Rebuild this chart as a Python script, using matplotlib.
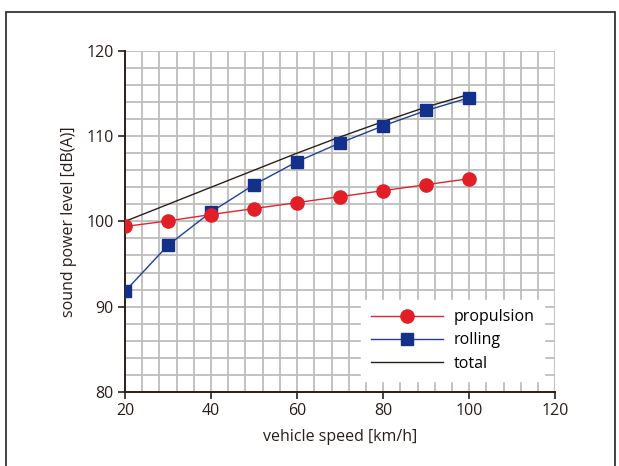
import matplotlib.pyplot as plt
import matplotlib.patches as patches
import numpy as np

plt.rcParams['font.family'] = ['Open Sans', 'DejaVu Sans']

speed = [20, 30, 40, 50, 60, 70, 80, 90, 100]
propulsion = [99.4, 100.05, 100.8, 101.5, 102.2, 102.9, 103.6, 104.3, 105.0]
rolling = [91.8, 97.2, 101.1, 104.3, 107.0, 109.2, 111.2, 113.0, 114.5]
total = [100.0, 102.0, 104.0, 106.0, 108.0, 109.9, 111.7, 113.4, 114.9]

fig = plt.figure(figsize=(6.19, 4.66), dpi=100)
ax = fig.add_axes([0.202, 0.159, 0.695, 0.732])

# outer frame
fig.patches.append(patches.Rectangle((0.009, -0.01), 0.985, 0.985, transform=fig.transFigure,
                                     fill=False, edgecolor='#222222', linewidth=1.2))

ax.plot(speed, total, color='#2a1f18', linewidth=1.0, label='total', zorder=3)
ax.plot(speed, rolling, color='#1f3f99', linewidth=1.0, marker='s', markersize=8,
        markerfacecolor='#13308a', markeredgecolor='#13308a', label='rolling', zorder=4)
ax.plot(speed, propulsion, color='#e2242a', linewidth=1.0, marker='o', markersize=9.5,
        markerfacecolor='#e02026', markeredgecolor='#e02026', label='propulsion', zorder=5)

ax.set_xlim(20, 120)
ax.set_ylim(80, 120)
ax.set_xticks(np.arange(20, 121, 20))
ax.set_yticks(np.arange(80, 121, 10))
ax.set_xticks(np.arange(20, 121, 4), minor=True)
ax.set_yticks(np.arange(80, 121, 2), minor=True)
ax.grid(which='both', color='#bdbdbd', linewidth=1.3)
ax.set_axisbelow(True)
ax.tick_params(which='minor', length=0)
ax.tick_params(which='major', length=5, width=1.2, color='#2a1f18', labelsize=11.5,
               labelcolor='#2a1f18', pad=3)
for s in ['top', 'right']:
    ax.spines[s].set_visible(False)
for s in ['left', 'bottom']:
    ax.spines[s].set_color('#2a1f18')
    ax.spines[s].set_linewidth(1.4)

ax.set_xlabel('vehicle speed [km/h]', fontsize=11.5, color='#2a1f18', labelpad=7)
ax.set_ylabel('sound power level [dB(A)]', fontsize=11.5, color='#2a1f18', labelpad=7)

h, l = ax.get_legend_handles_labels()
leg = ax.legend(h[::-1], l[::-1], loc='lower right', bbox_to_anchor=(0.982, 0.022),
                frameon=True, fancybox=False, fontsize=11.5, handlelength=4.5,
                labelspacing=0.45, borderpad=0.6, handletextpad=0.7, borderaxespad=0.2)
leg.get_frame().set_edgecolor('white')
leg.get_frame().set_facecolor('white')
leg.get_frame().set_alpha(1)

fig.savefig('out.png', dpi=100)
